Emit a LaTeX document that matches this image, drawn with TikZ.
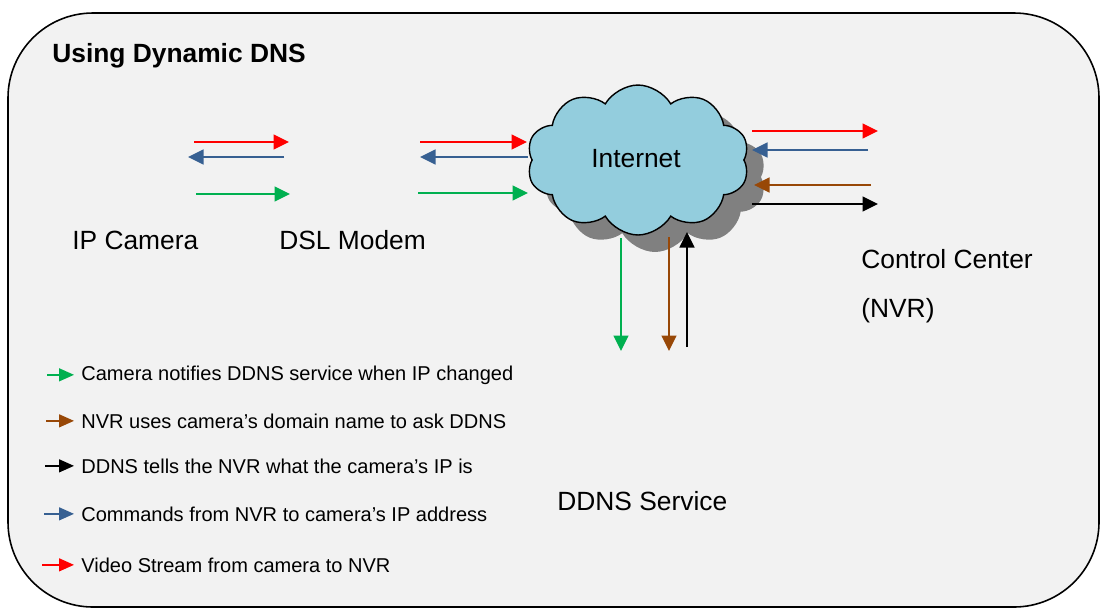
\documentclass[tikz,border=0pt]{standalone}
\usepackage{fontspec}
\setmainfont{Liberation Sans}
\usetikzlibrary{shapes.symbols,arrows.meta,shadows,positioning}

\definecolor{panelgray}{HTML}{F2F2F2}
\definecolor{cloudblue}{HTML}{93CDDD}
\definecolor{vidred}{HTML}{FF0000}
\definecolor{cmdblue}{HTML}{376092}
\definecolor{notegreen}{HTML}{00B050}
\definecolor{askbrown}{HTML}{984807}

\begin{document}
\begin{tikzpicture}[
  x=0.02cm, y=-0.02cm,
  label/.style={font=\fontsize{15}{18}\selectfont, anchor=base west, inner sep=0pt},
  legend/.style={font=\fontsize{11.4}{13}\selectfont, anchor=base west, inner sep=0pt},
  flow/.style={line width=0.9pt, -{Triangle[length=0.31cm, width=0.3cm]}},
  keyflow/.style={line width=0.8pt, -{Triangle[length=0.3cm, width=0.26cm]}}
]
\useasboundingbox (0,0) rectangle (1101,610);
\draw[line width=0.9pt, fill=panelgray, rounded corners=1.7cm] (8,13) rectangle (1099,607);

\node[label, font=\bfseries\fontsize{15}{18}\selectfont] (title) at (52,62) {Using Dynamic DNS};

% cloud with shadow
\node[cloud, cloud puffs=10, cloud puff arc=120, aspect=1.5, draw, line width=0.8pt,
      fill=cloudblue, minimum width=4.45cm, minimum height=3.0cm, inner sep=0pt,
      drop shadow={shadow xshift=0.34cm, shadow yshift=-0.34cm, fill=black!50, opacity=1}]
      (inet) at (638,160) {};
\node[label] (inettxt) at (591,167) {Internet};

\node[label] (cam) at (72,249) {IP Camera};
\node[label] (modem) at (279,249) {DSL Modem};
\node[label] (nvr) at (861,268) {Control Center};
\node[label] (nvr2) at (861,317) {(NVR)};
\node[label] (ddns) at (557,510) {DDNS Service};

% flow end points
\foreach \nm/\px/\py in {
  camR1/194/142, camR2/289/142, camB1/284/157, camB2/188/157, camG1/196/194, camG2/290/194,
  dslR1/420/142, dslR2/527/142, dslB1/528/157, dslB2/420/157, dslG1/418/193, dslG2/528/193,
  nvrR1/752/131, nvrR2/878/131, nvrB1/868/150, nvrB2/752/150,
  nvrN1/871/185, nvrN2/754/185, nvrK1/752/204, nvrK2/878/204,
  dnsG1/621/238, dnsG2/621/351, dnsN1/669/237, dnsN2/669/351, dnsK1/687/347, dnsK2/687/232}
  \coordinate (\nm) at (\px,\py);

\draw[flow, vidred] (camR1) -- (camR2);
\draw[flow, cmdblue] (camB1) -- (camB2);
\draw[flow, notegreen] (camG1) -- (camG2);
\draw[flow, vidred] (dslR1) -- (dslR2);
\draw[flow, cmdblue] (dslB1) -- (dslB2);
\draw[flow, notegreen] (dslG1) -- (dslG2);
\draw[flow, vidred] (nvrR1) -- (nvrR2);
\draw[flow, cmdblue] (nvrB1) -- (nvrB2);
\draw[flow, askbrown] (nvrN1) -- (nvrN2);
\draw[flow, black] (nvrK1) -- (nvrK2);
\draw[flow, notegreen] (dnsG1) -- (dnsG2);
\draw[flow, askbrown] (dnsN1) -- (dnsN2);
\draw[flow, black] (dnsK1) -- (dnsK2);

% legend
\node[legend] (key1) at (81,380) {Camera notifies DDNS service when IP changed};
\node[legend] (key2) at (81,428) {NVR uses camera’s domain name to ask DDNS};
\node[legend] (key3) at (81,473) {DDNS tells the NVR what the camera’s IP is};
\node[legend] (key4) at (81,521) {Commands from NVR to camera’s IP address};
\node[legend] (key5) at (81,572) {Video Stream from camera to NVR};
\foreach \k/\xs/\col in {key1/47/notegreen, key2/46/askbrown, key3/45/black, key4/44/cmdblue, key5/42/vidred}
  \draw[keyflow, \col] (\xs,0 |- \k.west) -- ([xshift=-0.14cm]\k.west);
\end{tikzpicture}
\end{document}
